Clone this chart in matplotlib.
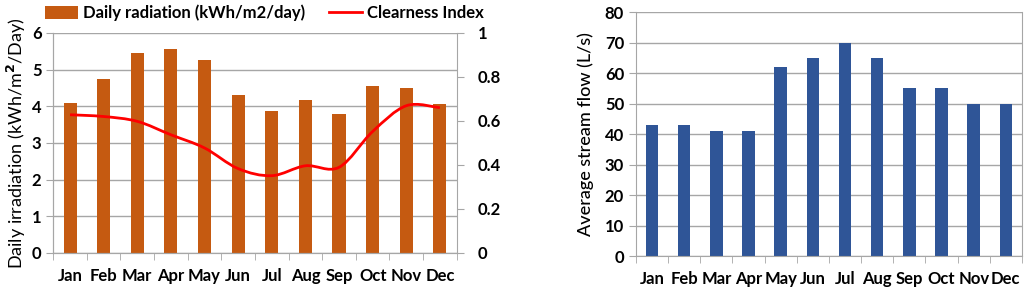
import matplotlib
matplotlib.use("Agg")
import matplotlib.pyplot as plt
from matplotlib.path import Path
from matplotlib.patches import PathPatch, Patch
from matplotlib.lines import Line2D
import numpy as np

months = ["Jan", "Feb", "Mar", "Apr", "May", "Jun", "Jul", "Aug", "Sep", "Oct", "Nov", "Dec"]
radiation = [4.1, 4.75, 5.45, 5.57, 5.25, 4.3, 3.88, 4.17, 3.8, 4.55, 4.5, 4.07]
clearness = [0.628, 0.62, 0.598, 0.537, 0.477, 0.383, 0.351, 0.396, 0.389, 0.552, 0.669, 0.66]
stream_flow = [43, 43, 41, 41, 62, 65, 70, 65, 55, 55, 50, 50]

plt.rcParams['font.family'] = ['Lato', 'DejaVu Sans']
plt.rcParams['font.weight'] = 'bold'
plt.rcParams['font.size'] = 12

ORANGE = "#C55A11"
BLUE = "#2F5597"
GRID = "#A6A6A6"


def smooth_path(xs, ys):
    # excel-like smoothed line as cubic bezier segments through the data points
    pts = np.column_stack([xs, ys])
    n = len(pts)
    verts = [pts[0]]
    codes = [Path.MOVETO]
    for i in range(n - 1):
        p0 = pts[max(i - 1, 0)]
        p1 = pts[i]
        p2 = pts[i + 1]
        p3 = pts[min(i + 2, n - 1)]
        c1 = p1 + (p2 - p0) / 6
        c2 = p2 - (p3 - p1) / 6
        verts += [c1, c2, p2]
        codes += [Path.CURVE4] * 3
    return Path(verts, codes)


def style_axes(ax):
    ax.set_xlim(-0.5, len(months) - 0.5)
    ax.set_xticks(range(len(months)))
    ax.set_xticklabels(months)
    ax.set_xticks(np.arange(-0.5, len(months)), minor=True)
    ax.tick_params(axis='x', which='major', length=0, pad=11)
    ax.tick_params(axis='x', which='minor', length=5, color=GRID)
    ax.tick_params(axis='y', length=5, color=GRID)
    ax.grid(axis='y', color=GRID, lw=1)
    ax.set_axisbelow(True)
    for s in ax.spines.values():
        s.set_color(GRID)
    ax.spines['top'].set_visible(False)


fig = plt.figure(figsize=(10.24, 2.89), dpi=100)

# left chart: radiation + clearness index
ax1 = fig.add_axes([0.052, 0.125, 0.394, 0.761])
x = np.arange(len(months))
ax1.bar(x, radiation, width=0.39, color=ORANGE, zorder=2)
style_axes(ax1)
ax1.set_ylim(0, 6)
ax1.set_yticks(range(0, 7))
ax1.spines['right'].set_visible(False)
ax1.set_ylabel("Daily irradiation (kWh/m$^{\\mathbf{2}}$/Day)", fontsize=13, labelpad=3)

ax2 = ax1.twinx()
ax2.set_ylim(0, 1)
ax2.set_yticks([0, 0.2, 0.4, 0.6, 0.8, 1])
ax2.set_yticklabels(["0", "0.2", "0.4", "0.6", "0.8", "1"])
ax2.tick_params(axis='y', length=5, color=GRID, pad=10)
for s in ax2.spines.values():
    s.set_color(GRID)
ax2.spines['top'].set_visible(False)
ax2.add_patch(PathPatch(smooth_path(x, clearness), facecolor='none', edgecolor='red', lw=2, zorder=3))

handles = [Patch(facecolor=ORANGE, label="Daily radiation (kWh/m2/day)"),
           Line2D([0], [0], color='red', lw=2, label="Clearness Index")]
fig.legend(handles=handles, loc='center', bbox_to_anchor=(0.258, 0.955), ncol=2, frameon=False,
           fontsize=12, handlelength=2.0, handleheight=0.8, columnspacing=1.4, handletextpad=0.3,
           borderpad=0, borderaxespad=0)

# right chart: stream flow
ax3 = fig.add_axes([0.621, 0.114, 0.377, 0.844])
ax3.bar(x, stream_flow, width=0.39, color=BLUE, zorder=2)
style_axes(ax3)
ax3.set_ylim(0, 80)
ax3.set_yticks(range(0, 81, 10))
ax3.set_ylabel("Average stream flow (L/s)", fontsize=13, fontweight='medium', labelpad=8)

fig.savefig("out.png", dpi=100)
